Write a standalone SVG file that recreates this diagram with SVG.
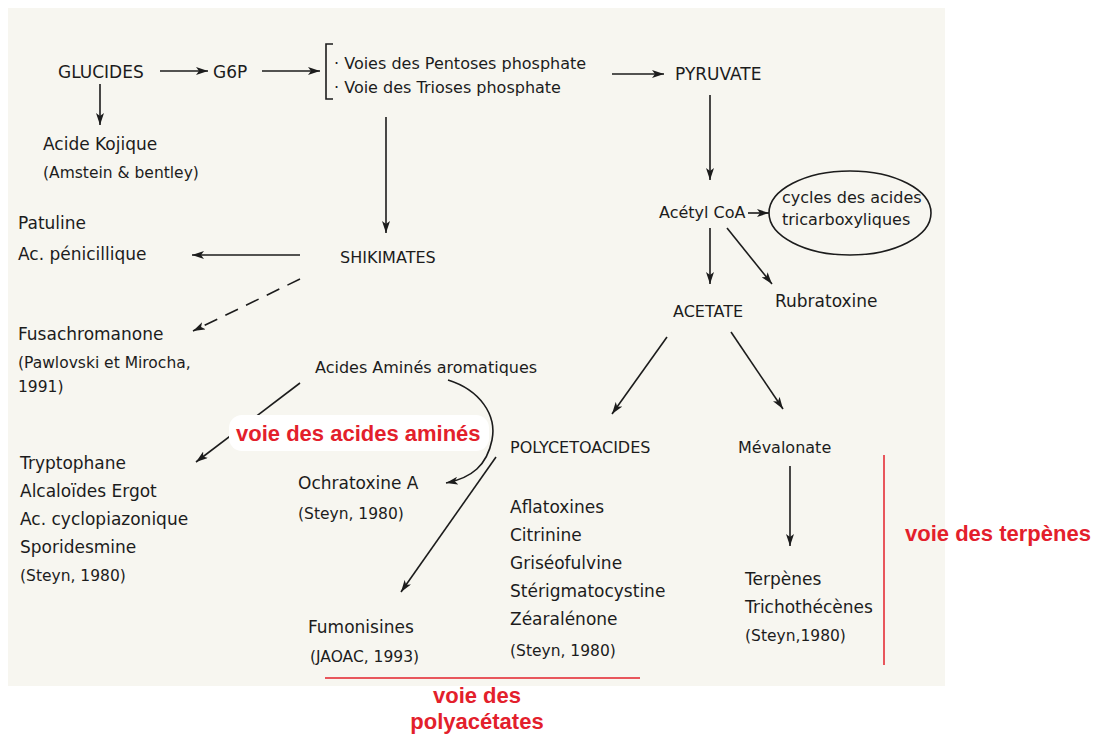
<svg xmlns="http://www.w3.org/2000/svg" width="1099" height="740" viewBox="0 0 1099 740">
<defs>
<style>
text{font-family:"DejaVu Sans","Liberation Sans",Arial,sans-serif;fill:#1c1c1c;font-size:16px}
.r{font-size:15.5px}
.b{font-size:17px}
.c{font-size:17px}
.red{font-family:"Liberation Sans",Arial,sans-serif;fill:#e3202b;font-weight:bold;font-size:22px}
.ln{stroke:#1c1c1c;stroke-width:1.6;fill:none}
.rl{stroke:#e3202b;stroke-width:1.5}
</style>
<marker id="ah" viewBox="0 0 12 8" refX="12" refY="4" markerWidth="12" markerHeight="8" markerUnits="userSpaceOnUse" orient="auto">
<path d="M0,0 L12,4 L0,8 L3,4 Z" fill="#1c1c1c"/>
</marker>
</defs>
<rect x="0" y="0" width="1099" height="740" fill="#ffffff"/>
<rect x="8" y="8" width="937" height="678" fill="#f7f6f0"/>

<g id="connectors">
<line class="ln" x1="160" y1="71" x2="208" y2="71" marker-end="url(#ah)"/>
<line class="ln" x1="262" y1="71" x2="320" y2="71" stroke-width="1.2" marker-end="url(#ah)"/>
<line class="ln" x1="100" y1="84" x2="100" y2="125" marker-end="url(#ah)"/>
<line class="ln" x1="612" y1="74" x2="664" y2="74" marker-end="url(#ah)"/>
<line class="ln" x1="386" y1="117" x2="386" y2="233" marker-end="url(#ah)"/>
<line class="ln" x1="300" y1="255" x2="192" y2="255" marker-end="url(#ah)"/>
<line class="ln" x1="300" y1="279" x2="193" y2="331" stroke-dasharray="14,9" marker-end="url(#ah)"/>
<line class="ln" x1="300" y1="383" x2="196" y2="462" marker-end="url(#ah)"/>
<path class="ln" d="M448,380 C480,390 497,415 492,440 C487,465 472,478 446,483" marker-end="url(#ah)"/>
<line class="ln" x1="496" y1="457" x2="401" y2="592" marker-end="url(#ah)"/>
<line class="ln" x1="710" y1="95" x2="710" y2="180" marker-end="url(#ah)"/>
<line class="ln" x1="748" y1="213" x2="769" y2="213" marker-end="url(#ah)"/>
<line class="ln" x1="710" y1="228" x2="710" y2="284" marker-end="url(#ah)"/>
<line class="ln" x1="727" y1="228" x2="772" y2="284" marker-end="url(#ah)"/>
<line class="ln" x1="667" y1="337" x2="612" y2="414" marker-end="url(#ah)"/>
<line class="ln" x1="731" y1="332" x2="783" y2="409" marker-end="url(#ah)"/>
<line class="ln" x1="790" y1="466" x2="790" y2="546" marker-end="url(#ah)"/>
</g>

<g id="glucides"><text class="c" x="58" y="78">GLUCIDES</text></g>
<g id="g6p"><text class="c" x="213" y="78">G6P</text></g>
<g id="voies">
<path class="ln" d="M333,44 L326,44 L326,99 L333,99"/>
<text x="334" y="69">· Voies des Pentoses phosphate</text>
<text x="334" y="93">· Voie des Trioses phosphate</text>
</g>
<g id="pyruvate"><text class="c" x="675" y="80">PYRUVATE</text></g>
<g id="kojique">
<text class="b" x="43" y="150">Acide Kojique</text>
<text class="r" x="43" y="178">(Amstein &amp; bentley)</text>
</g>
<g id="shikimates"><text x="340" y="263" font-size="15.5">SHIKIMATES</text></g>
<g id="patuline">
<text class="b" x="18" y="229">Patuline</text>
<text class="b" x="18" y="260">Ac. pénicillique</text>
</g>
<g id="fusachromanone">
<text class="b" x="18" y="340">Fusachromanone</text>
<text class="r" x="18" y="368">(Pawlovski et Mirocha,</text>
<text class="r" x="18" y="392">1991)</text>
</g>
<g id="acides-amines"><text x="315" y="373">Acides Aminés aromatiques</text></g>
<g id="label-amines">
<rect x="229" y="415" width="260" height="36" rx="13" fill="#ffffff"/>
<text class="red" x="236" y="441">voie des acides aminés</text>
</g>
<g id="tryptophane">
<text class="b" x="20" y="469">Tryptophane</text>
<text class="b" x="20" y="497">Alcaloïdes Ergot</text>
<text class="b" x="20" y="525">Ac. cyclopiazonique</text>
<text class="b" x="20" y="553">Sporidesmine</text>
<text class="r" x="20" y="581">(Steyn, 1980)</text>
</g>
<g id="ochratoxine">
<text class="b" x="298" y="489">Ochratoxine A</text>
<text class="r" x="298" y="519">(Steyn, 1980)</text>
</g>
<g id="fumonisines">
<text class="b" x="308" y="633">Fumonisines</text>
<text class="r" x="310" y="662">(JAOAC, 1993)</text>
</g>
<g id="acetylcoa"><text x="659" y="218">Acétyl CoA</text></g>
<g id="cycles">
<ellipse cx="850" cy="213" rx="81" ry="42" class="ln"/>
<text x="782" y="203" font-size="13.5">cycles des acides</text>
<text x="782" y="225" font-size="13.5">tricarboxyliques</text>
</g>
<g id="acetate"><text x="673" y="317" font-size="16.5">ACETATE</text></g>
<g id="rubratoxine"><text class="b" x="775" y="307">Rubratoxine</text></g>
<g id="polycetoacides">
<text x="510" y="453">POLYCETOACIDES</text>
<text class="b" x="510" y="513">Aflatoxines</text>
<text class="b" x="510" y="541">Citrinine</text>
<text class="b" x="510" y="569">Griséofulvine</text>
<text class="b" x="510" y="597">Stérigmatocystine</text>
<text class="b" x="510" y="625">Zéaralénone</text>
<text class="r" x="510" y="656">(Steyn, 1980)</text>
</g>
<g id="mevalonate"><text x="738" y="453">Mévalonate</text></g>
<g id="terpenes">
<text class="b" x="745" y="585">Terpènes</text>
<text class="b" x="745" y="613">Trichothécènes</text>
<text class="r" x="745" y="641">(Steyn,1980)</text>
</g>
<g id="label-polyacetates">
<line class="rl" x1="325" y1="678" x2="640" y2="678"/>
<text class="red" x="477" y="703" text-anchor="middle" font-size="21">voie des</text>
<text class="red" x="477" y="729" text-anchor="middle" font-size="21">polyacétates</text>
</g>
<g id="label-terpenes">
<line class="rl" x1="884" y1="455" x2="884" y2="665"/>
<text class="red" x="905" y="541">voie des terpènes</text>
</g>
</svg>
